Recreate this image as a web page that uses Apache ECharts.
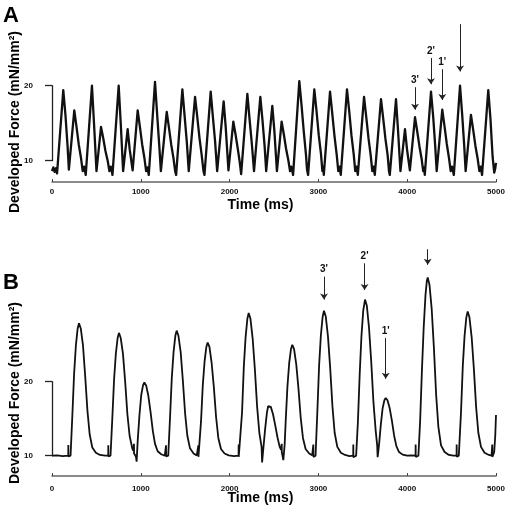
<!DOCTYPE html>
<html>
<head>
<meta charset="utf-8">
<script src="https://cdn.jsdelivr.net/npm/echarts@6/dist/echarts.min.js"></script>
<style>
html,body{margin:0;padding:0;background:#fff;}
#chart{width:510px;height:512px;}
</style>
</head>
<body>
<div id="chart"></div>
<script>
// ---------- DATA ----------
const xTicks = [0, 1000, 2000, 3000, 4000, 5000];
const yBracketTicks = [10, 20];
const panelLabels = ['A', 'B'];
const yAxisTitle = 'Developed Force (mN/mm²)';
const xAxisTitle = 'Time (ms)';

// Panel A trace: [time ms, force mN/mm2]
const traceA = [
[0,8.6],[15,9.1],[30,8.5],[45,9.0],[57,8.3],
[127,19.4],[152,16.0],[175,12.0],[190,8.8],
[251,16.7],[276,14.5],[301,12.2],[326,10.4],[346,8.6],[362,9.2],[372,8.6],[380,8.1],
[450,20.0],[473,15.0],[501,8.6],
[552,14.5],[577,13.0],[602,11.3],[627,10.0],[647,8.6],[662,9.2],[672,8.7],[681,8.1],
[751,20.0],[774,15.0],[801,8.6],
[852,14.2],[875,11.5],[908,8.7],
[965,16.7],[990,14.5],[1015,12.2],[1040,10.4],[1060,8.6],[1075,9.1],[1090,8.1],
[1160,20.5],[1185,16.0],[1208,12.0],[1226,8.6],
[1292,16.5],[1317,14.4],[1342,12.2],[1367,10.4],[1387,8.6],[1398,8.1],
[1468,19.5],[1493,16.0],[1518,12.5],[1540,8.6],
[1611,18.5],[1636,15.8],[1661,13.0],[1686,10.7],[1706,8.6],[1717,8.1],
[1787,19.2],[1812,15.8],[1837,12.5],[1860,8.6],
[1933,17.9],[1956,14.5],[1987,8.7],
[2042,15.2],[2067,13.5],[2092,11.6],[2112,10.0],[2130,8.2],
[2200,18.9],[2225,15.5],[2250,12.3],[2275,8.6],
[2346,18.5],[2371,15.3],[2394,12.0],[2412,8.6],
[2481,17.3],[2504,14.0],[2533,8.6],
[2586,15.2],[2611,13.5],[2636,11.6],[2661,10.1],[2681,8.6],[2695,9.2],[2705,8.7],[2715,8.1],
[2785,20.6],[2810,17.4],[2835,13.9],[2860,10.8],[2872,8.8],[2884,8.1],
[2954,19.5],[2979,16.6],[3004,13.4],[3029,10.9],[3045,8.6],[3055,9.2],[3061,8.1],
[3131,19.2],[3156,16.3],[3181,13.3],[3206,10.8],[3224,8.6],[3238,9.2],[3252,8.1],
[3322,19.5],[3347,16.6],[3372,13.4],[3397,10.9],[3415,8.6],[3430,9.2],[3444,8.1],
[3514,18.5],[3539,15.8],[3564,13.0],[3589,10.7],[3607,8.6],[3621,9.2],[3635,8.1],
[3705,18.2],[3730,15.6],[3755,12.9],[3780,10.7],[3795,8.6],[3804,8.1],
[3874,18.2],[3897,14.0],[3924,8.6],
[3975,14.2],[3998,11.5],[4030,8.7],
[4088,15.8],[4113,13.9],[4138,11.9],[4163,10.2],[4180,8.6],[4190,9.1],[4198,8.1],
[4268,19.2],[4293,15.8],[4315,12.0],[4332,8.6],
[4395,16.8],[4420,14.6],[4445,12.3],[4470,10.4],[4490,8.6],[4505,9.2],[4515,8.7],[4525,8.1],
[4595,20.0],[4620,16.0],[4642,12.0],[4658,8.6],
[4718,16.1],[4743,14.1],[4768,12.0],[4793,10.3],[4813,8.6],[4828,9.2],[4843,8.1],
[4913,19.4],[4938,15.5],[4962,10.5],[4980,8.4],[4992,9.0],[5000,9.7]
];

// Panel B trace: [time ms, force mN/mm2]
const traceB = [
[0,10.0],[60,10.05],[120,9.95],[183,10.0],[184,11.45],[185,9.9],[192,10.0],
[209,10.0],[229,15.4],[249,21.1],[269,24.9],[289,27.2],[304,27.9],[324,27.2],[349,24.9],[374,20.7],[399,16.1],[424,12.9],[454,11.1],[494,10.4],[540,10.1],[600,10.0],
[633,10.0],[634,11.4],[635,9.9],[640,10.0],
[659,10.0],[679,15.0],[699,20.3],[719,23.8],[739,25.9],[754,26.6],[774,25.9],[799,23.8],[824,20.0],[849,15.6],[874,12.7],[904,11.0],[915,10.7],[922,10.5],[923,11.6],[924,10.3],[945,9.9],[953,9.2],
[965,12.0],[985,15.5],[1005,18.2],[1025,19.5],[1040,19.9],[1060,19.5],[1085,18.1],[1110,15.9],[1135,13.4],[1160,11.6],[1190,10.6],[1230,10.2],[1270,10.0],
[1283,10.0],[1284,11.4],[1285,9.9],[1290,10.0],
[1309,10.0],[1329,15.1],[1349,20.5],[1369,24.0],[1389,26.2],[1404,26.9],[1424,26.2],[1449,24.0],[1474,20.1],[1499,15.7],[1524,12.7],[1554,11.0],[1594,10.3],[1630,10.05],
[1647,10.0],[1648,11.4],[1649,9.85],[1653,10.0],
[1663,10.0],[1678,14.6],[1698,19.5],[1718,22.7],[1738,24.7],[1753,25.3],[1773,24.7],[1798,22.5],[1823,19.2],[1848,15.2],[1873,12.4],[1903,10.9],[1943,10.3],[1990,10.05],[2050,9.95],
[2101,10.0],[2102,11.5],[2103,9.85],[2108,10.0],
[2120,10.0],[2140,15.8],[2160,22.0],[2180,26.0],[2200,28.5],[2215,29.3],[2235,28.5],[2260,25.8],[2285,21.6],[2310,16.6],[2335,13.1],[2360,11.2],[2366,9.1],
[2380,11.0],[2400,13.6],[2420,15.8],[2434,16.7],[2444,16.9],[2464,16.6],[2489,15.6],[2514,14.1],[2539,12.5],[2564,11.2],[2580,10.8],[2586,10.7],[2587,11.6],[2588,10.5],[2605,9.4],
[2620,11.5],[2631,14.5],[2651,19.3],[2671,22.5],[2691,24.4],[2706,25.0],[2726,24.4],[2751,22.3],[2776,19.0],[2801,15.1],[2826,12.4],[2856,10.9],[2896,10.3],[2930,10.05],
[2942,10.0],[2943,11.5],[2944,9.85],[2949,10.0],
[2968,10.0],[2988,15.9],[3008,22.2],[3028,26.3],[3048,28.8],[3063,29.6],[3083,28.8],[3108,26.1],[3133,21.8],[3158,16.7],[3183,13.1],[3213,11.2],[3253,10.4],[3300,10.1],[3350,9.95],
[3392,10.0],[3393,11.5],[3394,9.8],[3399,10.0],
[3425,10.0],[3445,14.6],[3465,21.0],[3485,26.2],[3505,29.6],[3525,31.1],[3545,30.3],[3570,27.3],[3595,22.7],[3620,17.2],[3645,13.4],[3662,11.4],[3667,9.8],
[3683,11.5],[3703,14.2],[3723,16.4],[3743,17.5],[3758,17.8],[3778,17.5],[3803,16.4],[3828,14.7],[3853,12.7],[3878,11.3],[3908,10.5],[3948,10.15],[4000,10.0],[4050,10.05],
[4094,10.0],[4095,11.5],[4096,9.85],[4101,10.0],
[4126,10.0],[4146,14.8],[4166,21.6],[4186,27.4],[4206,31.7],[4221,33.6],[4231,34.1],[4251,33.1],[4276,29.8],[4301,24.5],[4326,18.2],[4351,13.9],[4381,11.4],[4421,10.5],[4470,10.1],[4520,10.0],
[4556,10.0],[4557,11.5],[4558,9.85],[4563,10.0],
[4581,10.0],[4606,15.9],[4626,22.1],[4646,26.2],[4666,28.7],[4681,29.5],[4701,28.7],[4726,26.0],[4751,21.7],[4776,16.6],[4801,13.1],[4831,11.2],[4871,10.4],[4920,10.1],[4950,10.0],
[4957,10.0],[4958,11.5],[4959,9.85],[4965,10.0],[4980,10.5],[4992,12.8],[5000,15.5]
];

// Annotation arrows: [label, time, start force, tip force]
const arrowsA = [["3'",4088,19.8,16.8],["2'",4268,23.7,20.2],["1'",4395,22.2,18.1],["",4595,28.2,21.9]];
const arrowsB = [["3'",3063,34.2,31.1],["2'",3520,36.0,32.4],["1'",3758,25.9,20.4],["",4231,37.9,35.8]];

// ---------- CHART ----------
const FONT = '"Liberation Sans", Arial, Helvetica, sans-serif';
const chart = echarts.init(document.getElementById('chart'), null, {renderer:'canvas'});

function mkArrows(arr){
  return {
    silent: true,
    symbol: ['none','arrow'],
    symbolSize: 6,
    lineStyle: {type:'solid', color:'#222', width:1},
    label: {show:true, position:'start', distance:2, color:'#111', fontSize:10, fontWeight:'bold', fontFamily:FONT,
            formatter: p => p.name},
    emphasis: {disabled:true},
    animation:false,
    data: arr.map(a => [{name:a[0], coord:[a[1], a[2]]}, {coord:[a[1], a[3]]}])
  };
}
function mainX(grid, margin){
  return {
    gridIndex: grid, type:'value', min:xTicks[0], max:xTicks[xTicks.length-1], interval:1000,
    axisLine:{show:true, lineStyle:{color:'#666', width:1.5}},
    axisTick:{show:true, inside:true, length:3, lineStyle:{color:'#444', width:1}},
    axisLabel:{show:true, color:'#111', fontSize:8, fontWeight:'bold', fontFamily:FONT, margin:margin,
               formatter: v => String(v)},
    splitLine:{show:false}
  };
}
function hiddenX(grid){ return {gridIndex:grid, type:'value', min:0, max:5000, show:false}; }
function bracketY(grid){
  return {
    gridIndex:grid, type:'value', min:yBracketTicks[0], max:yBracketTicks[1], interval:10, offset:10,
    axisLine:{show:true, lineStyle:{color:'#222', width:1.3}},
    axisTick:{show:true, length:7, lineStyle:{color:'#222', width:1.3}},
    axisLabel:{show:true, color:'#111', fontSize:8, fontWeight:'bold', fontFamily:FONT, margin:9,
               formatter: v => String(v)},
    splitLine:{show:false}
  };
}

const option = {
  animation:false,
  backgroundColor:'#fff',
  grid:[
    {left:52, top:18.2, width:444, height:163.8, outerBoundsMode:'none', containLabel:false},
    {left:52, top:85.7, width:444, height:75, outerBoundsMode:'none', containLabel:false},
    {left:52, top:244.8, width:444, height:231.2, outerBoundsMode:'none', containLabel:false},
    {left:52, top:381.7, width:444, height:74, outerBoundsMode:'none', containLabel:false}
  ],
  xAxis:[ mainX(0, 6), hiddenX(1), mainX(2, 9), hiddenX(3) ],
  yAxis:[
    {gridIndex:0, type:'value', min:7.16, max:29, show:false},
    bracketY(1),
    {gridIndex:2, type:'value', min:7.26, max:38.5, show:false},
    bracketY(3)
  ],
  series:[
    {type:'line', xAxisIndex:0, yAxisIndex:0, data:traceA, symbol:'none', showSymbol:false,
     lineStyle:{color:'#111', width:2.3, join:'round'}, emphasis:{disabled:true}, markLine: mkArrows(arrowsA)},
    {type:'line', xAxisIndex:2, yAxisIndex:2, data:traceB, symbol:'none', showSymbol:false,
     lineStyle:{color:'#111', width:1.8}, emphasis:{disabled:true}, markLine: mkArrows(arrowsB)}
  ],
  graphic:[
    {type:'text', x:11, y:16, style:{text:panelLabels[0], fontSize:22, fontWeight:'bold', fontFamily:FONT, fill:'#000', align:'center', verticalAlign:'middle'}},
    {type:'text', x:11, y:283, style:{text:panelLabels[1], fontSize:22, fontWeight:'bold', fontFamily:FONT, fill:'#000', align:'center', verticalAlign:'middle'}},
    {type:'text', x:15, y:122, rotation:Math.PI/2, style:{text:yAxisTitle, fontSize:14, fontWeight:'bold', fontFamily:FONT, fill:'#000', align:'center', verticalAlign:'middle'}},
    {type:'text', x:15, y:393, rotation:Math.PI/2, style:{text:yAxisTitle, fontSize:14, fontWeight:'bold', fontFamily:FONT, fill:'#000', align:'center', verticalAlign:'middle'}},
    {type:'text', x:260.5, y:205, style:{text:xAxisTitle, fontSize:14, fontWeight:'bold', fontFamily:FONT, fill:'#000', align:'center', verticalAlign:'middle'}},
    {type:'text', x:260.5, y:498.5, style:{text:xAxisTitle, fontSize:14, fontWeight:'bold', fontFamily:FONT, fill:'#000', align:'center', verticalAlign:'middle'}}
  ]
};
chart.setOption(option);
</script>
</body>
</html>
